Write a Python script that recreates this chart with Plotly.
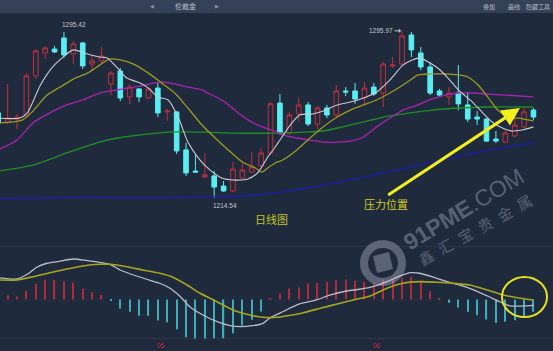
import plotly.graph_objects as go

# ---------------- data ----------------
days = list(range(58))
open_ = [1256.0, 1251.6, 1253.0, 1254.5, 1274.0, 1285.2, 1287.1, 1292.5, 1284.7, 1290.1,
         1279.8, 1281.3, 1270.1, 1276.4, 1263.8, 1267.7, 1263.3, 1268.1, 1256.5, 1256.5,
         1238.0, 1227.7, 1224.8, 1225.3, 1220.4, 1218.0, 1224.3, 1227.2, 1230.2, 1236.5,
         1260.8, 1246.2, 1255.5, 1259.9, 1250.6, 1258.4, 1255.0, 1266.7, 1266.7, 1263.3,
         1268.6, 1265.7, 1278.9, 1279.8, 1294.0, 1285.2, 1278.4, 1266.7, 1263.8, 1265.7,
         1259.9, 1254.0, 1253.0, 1243.3, 1241.8, 1244.8, 1249.2, 1257.4]
high = [1256.9, 1270.1, 1255.5, 1275.4, 1287.1, 1288.6, 1288.6, 1295.42, 1291.0, 1290.5,
        1283.7, 1288.1, 1276.4, 1277.9, 1270.1, 1268.1, 1268.1, 1271.1, 1257.9, 1256.9,
        1241.4, 1235.5, 1236.5, 1227.7, 1222.9, 1232.1, 1232.6, 1237.0, 1238.9, 1261.3,
        1265.2, 1256.5, 1263.3, 1261.3, 1259.4, 1259.9, 1269.6, 1268.6, 1270.6, 1271.1,
        1270.6, 1280.8, 1283.2, 1295.97, 1295.4, 1288.1, 1280.8, 1267.7, 1268.6, 1279.3,
        1266.2, 1256.9, 1253.5, 1247.2, 1247.7, 1254.5, 1258.4, 1258.4]
low = [1250.1, 1250.6, 1248.2, 1254.0, 1272.5, 1282.3, 1285.2, 1282.8, 1279.8, 1277.4,
       1276.4, 1279.8, 1264.7, 1261.8, 1260.4, 1261.3, 1262.8, 1254.0, 1252.1, 1236.0,
       1225.3, 1226.8, 1224.3, 1214.54, 1217.5, 1217.5, 1223.8, 1226.8, 1229.7, 1235.5,
       1245.3, 1245.3, 1251.6, 1249.6, 1248.2, 1253.5, 1254.0, 1264.2, 1260.4, 1259.9,
       1264.2, 1258.9, 1277.9, 1279.3, 1283.2, 1276.9, 1264.7, 1263.8, 1259.9, 1257.4,
       1251.6, 1250.1, 1241.8, 1241.4, 1241.4, 1244.3, 1248.7, 1252.6]
close = [1251.1, 1253.5, 1254.0, 1274.0, 1286.2, 1287.6, 1285.7, 1284.2, 1289.6, 1278.9,
         1281.3, 1283.7, 1275.4, 1263.3, 1268.6, 1263.8, 1267.7, 1256.0, 1256.9, 1237.5,
         1226.8, 1227.2, 1225.8, 1219.9, 1218.0, 1228.7, 1228.2, 1229.7, 1236.5, 1260.4,
         1246.2, 1255.0, 1259.9, 1250.6, 1258.4, 1255.0, 1266.7, 1266.2, 1262.8, 1268.1,
         1265.2, 1279.8, 1279.3, 1293.5, 1286.7, 1278.4, 1265.7, 1264.7, 1265.7, 1260.4,
         1253.0, 1253.0, 1242.3, 1242.3, 1246.2, 1250.1, 1256.5, 1254.0]

ma5_x = [0, 2.3, 3.1, 4.5, 5.8, 6.9, 8.0, 9.5, 10.8, 11.6, 12.7, 13.7, 15.1, 16.0, 17.0,
         18.1, 19.2, 20.2, 21.3, 22.3, 23.8, 25.2, 26.6, 27.7, 28.7, 29.5, 30.0, 31.1, 32.1,
         33.5, 34.6, 36.1, 37.5, 38.9, 40.3, 41.7, 43.1, 44.1, 44.9, 45.8, 46.8, 47.9, 49.0,
         50.5, 51.5, 52.6, 53.7, 54.7, 55.8, 57.0]
ma5_y = [1253.5, 1253.5, 1256.0, 1269.6, 1278.4, 1283.2, 1286.7, 1284.7, 1283.2, 1282.8,
         1277.9, 1273.0, 1270.6, 1268.1, 1263.8, 1262.3, 1253.5, 1241.8, 1234.1, 1229.2,
         1224.3, 1223.3, 1223.8, 1227.2, 1234.5, 1239.4, 1242.8, 1250.1, 1255.0, 1255.5,
         1256.9, 1259.9, 1261.3, 1263.3, 1266.2, 1272.0, 1279.3, 1281.8, 1282.8, 1280.8,
         1277.9, 1273.0, 1267.2, 1261.3, 1256.5, 1251.6, 1248.7, 1247.2, 1247.7, 1249.2]

ma10_x = [0, 1.6, 2.6, 3.7, 5.2, 6.6, 8.0, 9.5, 10.8, 11.9, 13.0, 14.4, 16.0, 17.4, 18.8,
          20.2, 21.7, 23.1, 24.5, 26.0, 27.4, 28.1, 28.7, 29.5, 30.3, 31.8, 33.2, 34.6, 36.1,
          37.5, 38.9, 40.3, 41.7, 43.1, 43.9, 44.7, 46.2, 47.6, 49.0, 50.0, 51.1, 52.2, 53.2,
          54.3, 55.4, 57.0]
ma10_y = [1251.1, 1251.6, 1252.6, 1256.9, 1264.7, 1268.6, 1272.5, 1275.4, 1279.3, 1282.3,
          1281.8, 1279.8, 1275.4, 1270.6, 1265.7, 1258.4, 1250.1, 1243.8, 1238.0, 1232.1,
          1229.2, 1227.2, 1229.2, 1231.6, 1233.1, 1238.0, 1243.8, 1249.2, 1254.0, 1257.4,
          1259.9, 1262.3, 1265.7, 1269.6, 1272.0, 1274.5, 1275.0, 1275.0, 1274.5, 1273.5,
          1269.6, 1263.3, 1257.4, 1254.0, 1253.5, 1252.1]

ma20_x = [0, 2.0, 3.7, 5.5, 7.3, 9.0, 10.8, 12.7, 15.1, 17.4, 18.8, 20.2, 21.7, 22.3, 23.8,
          25.2, 26.6, 28.1, 29.5, 30.3, 31.8, 33.2, 34.6, 36.1, 37.5, 38.9, 40.3, 41.7, 43.1,
          44.7, 46.2, 47.6, 49.0, 50.5, 52.2, 54.0, 57.0]
ma20_y = [1238.0, 1242.8, 1251.1, 1256.0, 1259.9, 1262.3, 1265.7, 1267.2, 1269.1, 1271.1,
          1270.1, 1268.6, 1267.2, 1265.7, 1262.3, 1257.4, 1252.6, 1249.2, 1247.2, 1245.3,
          1243.8, 1242.8, 1241.8, 1241.8, 1242.3, 1244.3, 1249.2, 1253.5, 1257.4, 1259.9,
          1262.8, 1264.7, 1265.7, 1265.7, 1265.2, 1264.7, 1263.8]

ma40_x = [0, 3.7, 7.3, 10.8, 12.7, 15.1, 18.1, 21.7, 25.2, 29.5, 32.5, 34.6, 36.7, 38.9,
          41.0, 43.9, 46.2, 49.0, 51.8, 57.0]
ma40_y = [1227.7, 1230.6, 1236.5, 1241.8, 1243.8, 1245.3, 1246.7, 1246.7, 1246.2, 1246.2,
          1246.7, 1247.2, 1249.2, 1251.6, 1254.0, 1256.0, 1257.4, 1258.4, 1258.9, 1258.9]

ma120_x = [0, 5.5, 10.8, 16.2, 22.9, 26.8, 30.0, 35.3, 42.5, 49.5, 57.0]
ma120_y = [1214.3, 1214.6, 1214.8, 1214.6, 1215.1, 1215.8, 1217.3, 1221.4, 1228.2, 1235.5, 1241.4]

macd_hist = [0.45, 0.50, 0.38, 1.09, 1.96, 2.46, 2.46, 2.25, 2.13, 1.34,
             0.91, 0.59, -0.13, -1.13, -1.54, -2.04, -2.04, -2.63, -2.84, -3.71,
             -4.71, -4.88, -4.88, -4.84, -4.84, -4.21, -3.25, -2.54, -1.50, 0.19,
             0.75, 1.38, 1.50, 2.00, 2.09, 2.21, 2.41, 2.50, 2.34, 2.21,
             2.09, 2.41, 2.50, 2.71, 2.84, 2.21, 1.04, 0.13, -0.41, -1.00,
             -1.54, -1.96, -2.50, -2.91, -2.79, -2.59, -2.09, -1.54]

dif_x = [0, 2.0, 3.1, 4.1, 5.2, 6.3, 8.0, 9.5, 10.8, 11.9, 13.0, 14.4, 15.8, 17.2, 18.3,
         19.4, 20.4, 21.8, 23.3, 24.7, 25.8, 27.1, 28.2, 28.9, 30.3, 32.1, 33.9, 35.3, 37.1,
         38.5, 39.9, 41.4, 42.8, 43.9, 44.9, 46.7, 48.4, 50.2, 52.1, 53.4, 54.5, 55.9, 57.0]
dif_y = [2.73, 2.56, 3.15, 4.03, 4.53, 4.73, 5.06, 4.85, 4.65, 4.40, 3.69, 3.06, 2.53, 2.03,
         1.40, 0.35, -0.90, -1.94, -2.78, -3.28, -3.40, -3.28, -2.98, -2.35, -1.53, -0.56,
         -0.06, 0.56, 1.06, 1.28, 1.60, 2.23, 2.94, 3.35, 3.28, 2.65, 2.03, 1.40, 0.44, -0.28,
         -0.81, -0.81, -0.73]
dea_x = [0, 2.0, 3.7, 5.5, 7.3, 9.0, 10.8, 11.9, 13.7, 15.4, 17.2, 18.6, 20.1, 21.5, 23.3,
         25.0, 26.8, 28.2, 29.7, 30.8, 32.5, 34.3, 36.1, 37.8, 39.6, 41.4, 43.1, 44.9, 46.7,
         48.4, 50.2, 52.1, 53.8, 55.6, 57.0]
dea_y = [2.44, 2.44, 2.85, 3.35, 3.81, 4.19, 4.40, 4.40, 4.10, 3.69, 3.28, 2.78, 1.81, 0.78,
         -0.28, -1.31, -1.94, -2.23, -2.23, -2.03, -1.65, -1.10, -0.56, -0.06, 0.44, 1.40,
         2.03, 2.23, 2.15, 2.03, 1.81, 1.19, 0.56, 0.15, -0.06]

month_labels = ["05", "06"]
month_pos = [17.3, 40.3]

# ---------------- styling ----------------
W, H = 553, 351
BG = "#1f2a3d"
RED = "#c0303c"
CYAN = "#58eef2"


def px(x):
    return x / W


def py(y):
    return 1 - y / H


fig = go.Figure()

ma_specs = [
    (ma120_x, ma120_y, "#1c1cae", 1.3),
    (ma40_x, ma40_y, "#1f8f24", 1.3),
    (ma20_x, ma20_y, "#a824b0", 1.3),
    (ma10_x, ma10_y, "#9c9a22", 1.3),
    (ma5_x, ma5_y, "#c9ccd4", 1.1),
]
for xs, ys, col, w in ma_specs:
    fig.add_trace(go.Scatter(x=xs, y=ys, mode="lines", hoverinfo="skip",
                             line=dict(color=col, width=w, shape="spline", smoothing=0.7)))

fig.add_trace(go.Candlestick(
    x=days, open=open_, high=high, low=low, close=close,
    increasing=dict(line=dict(color=RED, width=1), fillcolor="rgba(0,0,0,0)"),
    decreasing=dict(line=dict(color=CYAN, width=1), fillcolor=CYAN),
    whiskerwidth=0,
))

hist_colors = ["#b02a3a" if v >= 0 else "#3aaebc" for v in macd_hist]
fig.add_trace(go.Bar(x=days, y=macd_hist, yaxis="y2", width=0.13,
                     marker=dict(color=hist_colors, line=dict(width=0)), hoverinfo="skip"))
fig.add_trace(go.Scatter(x=dif_x, y=dif_y, yaxis="y2", mode="lines", hoverinfo="skip",
                         line=dict(color="#b9bdc8", width=1.3, shape="spline", smoothing=0.7)))
fig.add_trace(go.Scatter(x=dea_x, y=dea_y, yaxis="y2", mode="lines", hoverinfo="skip",
                         line=dict(color="#a8a620", width=1.6, shape="spline", smoothing=0.7)))

shapes = [
    dict(type="rect", xref="paper", yref="paper", x0=0, x1=1, y0=py(13), y1=1,
         fillcolor="#344157", line=dict(width=0), layer="above"),
    dict(type="line", xref="paper", yref="paper", x0=0, x1=1, y0=py(246.5), y1=py(246.5),
         line=dict(color="rgba(255,255,255,0.06)", width=1), layer="below"),
    dict(type="line", xref="paper", yref="paper", x0=0, x1=1, y0=py(338.5), y1=py(338.5),
         line=dict(color="rgba(255,255,255,0.06)", width=1), layer="below"),
    dict(type="circle", xref="paper", yref="paper", x0=px(502), x1=px(547),
         y0=py(317), y1=py(277), line=dict(color="#e8e21e", width=2), layer="above"),
    # watermark logo
    dict(type="circle", xref="paper", yref="paper", x0=px(364), x1=px(402),
         y0=py(282), y1=py(244), line=dict(color="rgba(215,220,230,0.33)", width=8),
         layer="above"),
    dict(type="path", xref="paper", yref="paper",
         path="M {} {} L {} {} L {} {} L {} {} Z".format(
             px(373), py(256), px(389), py(252), px(393), py(269), px(377), py(273)),
         fillcolor="rgba(215,220,230,0.33)", line=dict(width=0), layer="above"),
]

anns = []
lab = dict(family="Liberation Sans, Arial, sans-serif", size=6.5, color="#c4c9d2")
i_hi1 = high.index(max(high[:30]))
i_lo = low.index(min(low))
i_hi2 = high.index(max(high[30:]))
anns.append(dict(x=days[i_hi1], y=high[i_hi1], xref="x", yref="y", text=f"{high[i_hi1]:.2f}",
                 showarrow=False, xanchor="center", yanchor="bottom", xshift=10, yshift=2,
                 font=lab))
anns.append(dict(x=days[i_lo], y=low[i_lo], xref="x", yref="y", text=f"{low[i_lo]:.2f}",
                 showarrow=False, xanchor="center", yanchor="top", xshift=11, yshift=-2,
                 font=lab))
anns.append(dict(x=days[i_hi2], y=high[i_hi2], xref="x", yref="y", text=f"{high[i_hi2]:.2f}",
                 showarrow=True, ax=-21, ay=0, arrowhead=1, arrowsize=0.7, arrowwidth=1,
                 arrowcolor="#c4c9d2", standoff=1, font=lab))


def note(x, y, text, font, **kw):
    d = dict(x=px(x), y=py(y), xref="paper", yref="paper", text=text, showarrow=False,
             xanchor="center", yanchor="middle", font=font)
    d.update(kw)
    anns.append(d)


cjk = "Noto Sans CJK SC"
note(271.5, 219, "日线图", dict(family=cjk, size=11, color="#c6c420"))
note(385.5, 204, "压力位置", dict(family=cjk, size=11, color="#d2ce20"))
anns.append(dict(x=px(520), y=py(108), xref="paper", yref="paper",
                 ax=386.7 - 520, ay=196 - 108, text="", showarrow=True, arrowhead=2,
                 arrowsize=1.2, arrowwidth=3, arrowcolor="#f4f01c"))

# watermark text
wm = "rgba(215,220,230,0.33)"
note(464, 209, "<b>91PME</b>.COM",
     dict(family="Liberation Sans, Arial, sans-serif", size=23, color=wm), textangle=-31)
note(475, 229, "\u2002".join("鑫汇宝贵金属"), dict(family=cjk, size=15, color=wm),
     textangle=-29)

# top bar texts
topc = "#b9c0cc"
note(185, 6.5, "伦敦金", dict(family=cjk, size=7, color=topc))
note(152, 6.5, "◀", dict(family="DejaVu Sans", size=5, color="#8e97a6"))
note(217, 6.5, "▶", dict(family="DejaVu Sans", size=5, color="#8e97a6"))
note(489, 6.5, "叠加", dict(family=cjk, size=6, color=topc))
note(513.5, 6.5, "画线", dict(family=cjk, size=6, color=topc))
note(552, 6.5, "隐藏工具", dict(family=cjk, size=6, color=topc), xanchor="right")

for lbl, pos in zip(month_labels, month_pos):
    anns.append(dict(x=pos, y=py(345.5), xref="x", yref="paper", text=lbl, showarrow=False,
                     xanchor="center", yanchor="middle",
                     font=dict(family="Liberation Sans, Arial, sans-serif", size=6.5,
                               color="#c0303c")))

fig.update_layout(
    width=W, height=H, margin=dict(l=0, r=0, t=0, b=0),
    paper_bgcolor=BG, plot_bgcolor=BG, showlegend=False,
    xaxis=dict(range=[0.19, 59.08], visible=False, rangeslider=dict(visible=False),
               fixedrange=True),
    yaxis=dict(range=[1140.06, 1311.0], visible=False, domain=[0, 1], fixedrange=True),
    yaxis2=dict(range=[-6.44, 37.44], overlaying="y", visible=False, fixedrange=True),
    shapes=shapes, annotations=anns, hovermode=False,
)

fig.write_html("out.html")
